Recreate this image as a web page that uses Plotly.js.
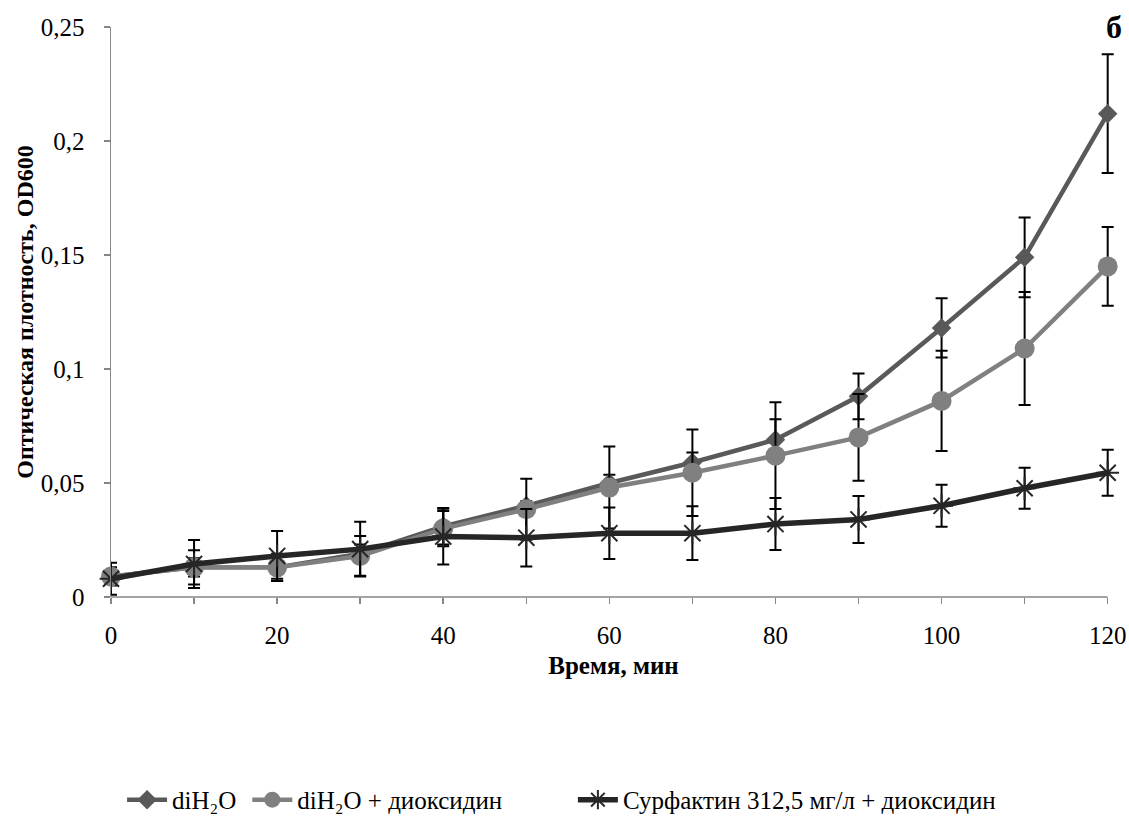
<!DOCTYPE html>
<html>
<head>
<meta charset="utf-8">
<script src="https://cdn.plot.ly/plotly-3.0.1.min.js"></script>
<style>
  html, body { margin: 0; padding: 0; background: #ffffff; }
  #chart { width: 1129px; height: 816px; }
</style>
</head>
<body>
<div id="chart"></div>
<script>
// ---- data ----
const timeMin = [0, 10, 20, 30, 40, 50, 60, 70, 80, 90, 100, 110, 120];

const seriesNames = ["diH₂O", "diH₂O + диоксидин", "Сурфактин 312,5 мг/л + диоксидин"];

const waterOD = [0.009, 0.013, 0.013, 0.019, 0.031, 0.040, 0.050, 0.059, 0.069, 0.088, 0.118, 0.149, 0.212];
const waterErr = [0.003, 0.004, 0.005, 0.004, 0.008, 0.002, 0.0036, 0.0044, 0.009, 0.010, 0.013, 0.0175, 0.026];

const dioxOD = [0.009, 0.013, 0.013, 0.018, 0.030, 0.0385, 0.048, 0.0545, 0.062, 0.070, 0.086, 0.109, 0.145];
const dioxErr = [0.004, 0.0075, 0.006, 0.0087, 0.0077, 0.0134, 0.018, 0.019, 0.0234, 0.019, 0.022, 0.0248, 0.0173];

const surfOD = [0.008, 0.0145, 0.018, 0.021, 0.0265, 0.026, 0.028, 0.028, 0.032, 0.034, 0.040, 0.0477, 0.0545];
const surfErr = [0.007, 0.0105, 0.011, 0.012, 0.0122, 0.0126, 0.0113, 0.0118, 0.0114, 0.0103, 0.0092, 0.009, 0.0101];

const xTickVals = [0, 10, 20, 30, 40, 50, 60, 70, 80, 90, 100, 110, 120];
const xTickText = ["0", "", "20", "", "40", "", "60", "", "80", "", "100", "", "120"];
const yTickVals = [0, 0.05, 0.1, 0.15, 0.2, 0.25];
const yTickText = ["0", "0,05", "0,1", "0,15", "0,2", "0,25"];

const xTitle = "Время, мин";
const yTitle = "Оптическая плотность, OD600";
const panelLabel = "б";

// ---- styling ----
const serif = "'Liberation Serif', 'Times New Roman', Tinos, serif";
function errBar(arr) {
  return { type: "data", array: arr, visible: true, color: "#000000", thickness: 2, width: 6 };
}

const traces = [
  {
    x: timeMin, y: waterOD, name: seriesNames[0], type: "scatter", mode: "lines+markers",
    legend: "legend", cliponaxis: false,
    line: { color: "#595959", width: 4.5 },
    marker: { symbol: "diamond", size: 15, color: "#595959" },
    error_y: errBar(waterErr)
  },
  {
    x: timeMin, y: dioxOD, name: seriesNames[1], type: "scatter", mode: "lines+markers",
    legend: "legend2", cliponaxis: false,
    line: { color: "#808080", width: 4.5 },
    marker: { symbol: "circle", size: 20, color: "#808080" },
    error_y: errBar(dioxErr)
  },
  {
    x: timeMin, y: surfOD, name: seriesNames[2], type: "scatter", mode: "lines+markers",
    legend: "legend3", cliponaxis: false,
    line: { color: "#262626", width: 5.5 },
    marker: { symbol: "asterisk-open", size: 19, color: "#262626", line: { color: "#262626", width: 2 } },
    error_y: errBar(surfErr)
  }
];

const legendFont = { family: serif, size: 25, color: "#000000" };
function legendAt(xp) {
  return { orientation: "h", x: xp, xanchor: "left", y: -0.356, yanchor: "middle",
           font: legendFont, bgcolor: "rgba(0,0,0,0)", itemwidth: 40 };
}

// x range runs a little past the last time point so the end error caps are not cut;
// the visible x axis line is drawn only from 0 to the last time point.
const xEnd = timeMin[timeMin.length - 1];

const layout = {
  width: 1129, height: 816,
  paper_bgcolor: "#ffffff", plot_bgcolor: "#ffffff",
  margin: { l: 111, r: 13, t: 27, b: 219, autoexpand: false },
  font: { family: serif, size: 25, color: "#000000" },
  showlegend: true,
  legend: legendAt(0.011),
  legend2: legendAt(0.1356),
  legend3: legendAt(0.4596),
  xaxis: {
    range: [0, xEnd + 1], tickvals: xTickVals, ticktext: xTickText,
    showline: false,
    ticks: "outside", ticklen: 6, tickcolor: "#868686", tickwidth: 1.5,
    ticklabelstandoff: 10,
    showgrid: false, zeroline: false,
    tickfont: { family: serif, size: 25, color: "#000000" },
    title: { text: "<b>" + xTitle + "</b>", font: { family: serif, size: 25, color: "#000000" }, standoff: 8 }
  },
  yaxis: {
    range: [0, 0.25], tickvals: yTickVals, ticktext: yTickText,
    showline: true, linecolor: "#868686", linewidth: 1.5,
    ticks: "outside", ticklen: 6, tickcolor: "#868686", tickwidth: 1.5,
    ticklabelstandoff: 14,
    showgrid: false, zeroline: false,
    tickfont: { family: serif, size: 25, color: "#000000" },
    title: { text: "<b>" + yTitle + "</b>", font: { family: serif, size: 24, color: "#000000" }, standoff: 0 }
  },
  shapes: [
    { type: "line", xref: "x", yref: "paper", x0: 0, x1: xEnd, y0: 0, y1: 0,
      line: { color: "#868686", width: 1.5 }, layer: "below" }
  ],
  annotations: [
    {
      text: "<b>" + panelLabel + "</b>", xref: "paper", yref: "paper",
      x: 0.998, y: 1.0, xanchor: "center", yanchor: "middle", showarrow: false,
      font: { family: serif, size: 32, color: "#000000" }
    }
  ]
};

Plotly.newPlot("chart", traces, layout, { displayModeBar: false, staticPlot: true });
</script>
</body>
</html>
